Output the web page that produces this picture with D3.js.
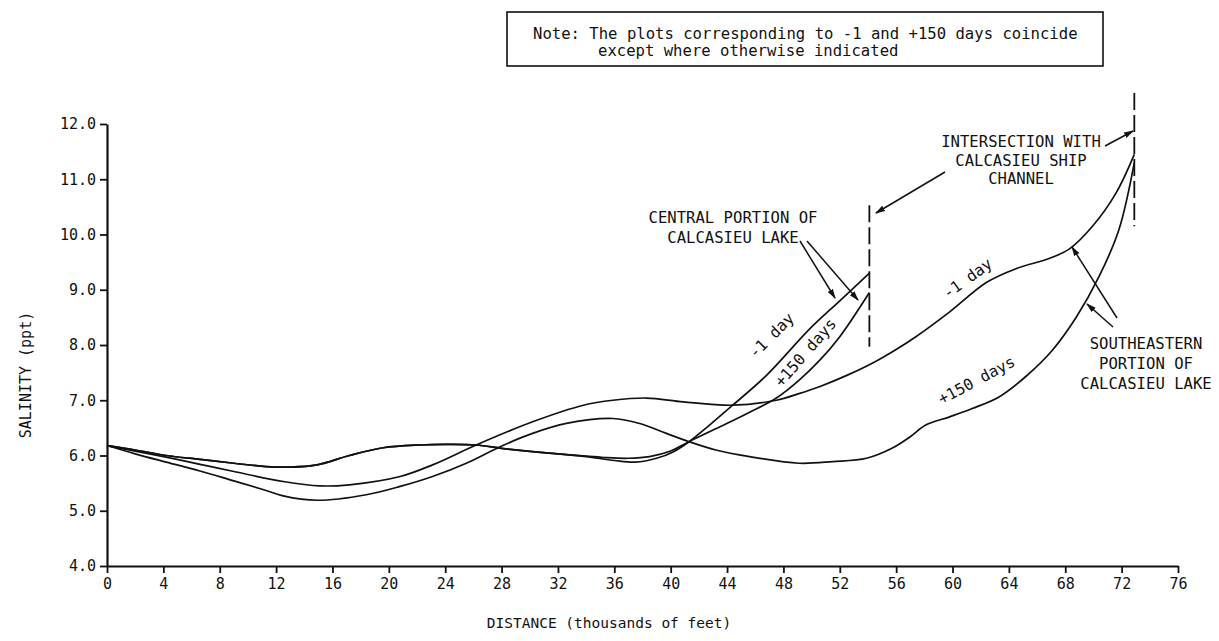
<!DOCTYPE html>
<html>
<head>
<meta charset="utf-8">
<script src="https://cdn.jsdelivr.net/npm/d3@7/dist/d3.min.js"></script>
<style>
  html, body { margin: 0; padding: 0; background: #fff; }
  svg { display: block; }
  text { font-family: "DejaVu Sans Mono", "Liberation Mono", monospace; fill: #111; }
</style>
</head>
<body>
<svg id="chart" width="1219" height="641"></svg>
<script>
// ---------------- DATA ----------------
const xTickValues = [0,4,8,12,16,20,24,28,32,36,40,44,48,52,56,60,64,68,72,76];
const yTickValues = [4,5,6,7,8,9,10,11,12];

// Central portion of Calcasieu Lake, -1 day
const centralMinus1Dist = [0, 2, 4.2, 6.6, 9, 11.3, 13, 14.9, 17.2, 19.6, 22.2, 24, 26.2, 28, 30.2, 32, 34, 36, 37.5, 39, 40.2, 41.3, 42.8, 44.4, 46.8, 49.9, 52, 54.1];
const centralMinus1Sal  = [6.18, 6.1, 6.0, 5.93, 5.86, 5.8, 5.79, 5.83, 6.0, 6.14, 6.19, 6.2, 6.19, 6.13, 6.07, 6.03, 5.98, 5.91, 5.88, 5.95, 6.07, 6.25, 6.56, 6.91, 7.45, 8.3, 8.8, 9.3];

// Central portion of Calcasieu Lake, +150 days
const centralPlus150Dist = [0, 2, 4.2, 6.6, 9, 11.3, 13, 14.9, 17.2, 19.6, 22.2, 24, 26.2, 28, 30.2, 32, 34, 35.5, 37, 38.5, 40, 41.3, 43.5, 45.5, 47.5, 49.1, 50.6, 52, 54.1];
const centralPlus150Sal  = [6.18, 6.1, 6.0, 5.93, 5.86, 5.8, 5.79, 5.83, 6.0, 6.14, 6.19, 6.2, 6.19, 6.13, 6.07, 6.03, 5.99, 5.96, 5.95, 5.98, 6.08, 6.25, 6.52, 6.77, 7.04, 7.36, 7.73, 8.15, 8.95];

// Southeastern portion of Calcasieu Lake, -1 day
const southeastMinus1Dist = [0, 2, 4.2, 6.6, 9, 12.5, 15.1, 17.2, 20.8, 23.1, 26.2, 30.2, 33.8, 35.9, 38.3, 40.9, 44.4, 47.5, 49.1, 50.6, 52.5, 54.3, 56, 57.4, 59.8, 62.4, 64.5, 66.9, 68.3, 69.9, 71.6, 72.9];
const southeastMinus1Sal  = [6.18, 6.08, 5.97, 5.84, 5.71, 5.53, 5.45, 5.47, 5.62, 5.83, 6.19, 6.61, 6.91, 7.0, 7.04, 6.97, 6.91, 7.0, 7.12, 7.25, 7.45, 7.67, 7.92, 8.15, 8.6, 9.13, 9.38, 9.57, 9.74, 10.14, 10.75, 11.45];

// Southeastern portion of Calcasieu Lake, +150 days
const southeastPlus150Dist = [0, 2, 4.2, 6.6, 9, 11, 12.5, 14.9, 18.4, 20.8, 23.1, 25.5, 27.9, 30.2, 32.6, 35.9, 37.8, 39.7, 41.3, 43.2, 45.6, 49.1, 51.5, 53.9, 55.7, 57, 58.1, 59.8, 61.4, 63.3, 65.2, 67.1, 68.8, 70.4, 71.8, 72.9];
const southeastPlus150Sal  = [6.18, 6.03, 5.88, 5.72, 5.54, 5.39, 5.27, 5.19, 5.29, 5.44, 5.62, 5.86, 6.16, 6.40, 6.58, 6.67, 6.58, 6.40, 6.25, 6.10, 5.98, 5.86, 5.89, 5.95, 6.13, 6.34, 6.55, 6.70, 6.85, 7.06, 7.43, 7.91, 8.51, 9.24, 10.08, 11.3];

// Positions of the ship channel intersections (thousands of feet)
const channelCrossings = [54.1, 72.9];

const noteLines = ["Note: The plots corresponding to -1 and +150 days coincide",
                   "except where otherwise indicated"];

// ---------------- CHART ----------------
const svg = d3.select("#chart");
const x = d3.scaleLinear().domain([0, 76]).range([107, 1178]);
const y = d3.scaleLinear().domain([4, 12]).range([566, 124]);

// arrow marker
svg.append("defs").append("marker")
  .attr("id", "arrow").attr("viewBox", "0 0 10 10")
  .attr("refX", 9).attr("refY", 5)
  .attr("markerWidth", 10).attr("markerHeight", 10)
  .attr("markerUnits", "userSpaceOnUse")
  .attr("orient", "auto")
  .append("path").attr("d", "M0,2 L10,5 L0,8 Z").attr("fill", "#111");

// axes
const xAxis = d3.axisBottom(x).tickValues(xTickValues).tickSize(7).tickSizeOuter(0).tickPadding(5)
  .tickFormat(d3.format("d"));
const gx = svg.append("g").attr("transform", `translate(0,${y(4)})`).call(xAxis);
gx.select(".domain").attr("stroke", "#111").attr("stroke-width", 2.2);
gx.selectAll(".tick line").attr("stroke", "#111").attr("stroke-width", 1.8);
gx.selectAll(".tick text").attr("font-size", 15).attr("font-family", "DejaVu Sans Mono").attr("fill", "#111");

const yAxis = d3.axisLeft(y).tickValues(yTickValues).tickSize(7).tickSizeOuter(0).tickPadding(4)
  .tickFormat(d3.format(".1f"));
const gy = svg.append("g").attr("transform", `translate(${x(0)},0)`).call(yAxis);
gy.select(".domain").attr("stroke", "#111").attr("stroke-width", 2.2);
gy.selectAll(".tick line").attr("stroke", "#111").attr("stroke-width", 1.8);
gy.selectAll(".tick text").attr("font-size", 15).attr("font-family", "DejaVu Sans Mono").attr("fill", "#111");

// axis titles
svg.append("text").attr("x", 609).attr("y", 628).attr("text-anchor", "middle")
  .attr("font-size", 14.5).text("DISTANCE (thousands of feet)");
svg.append("text").attr("transform", "translate(31,375) rotate(-90)").attr("text-anchor", "middle")
  .attr("font-size", 15).text("SALINITY (ppt)");

// curves
const line = d3.line().x(d => x(d[0])).y(d => y(d[1])).curve(d3.curveCatmullRom.alpha(0.5));
const series = [
  [centralMinus1Dist, centralMinus1Sal],
  [centralPlus150Dist, centralPlus150Sal],
  [southeastMinus1Dist, southeastMinus1Sal],
  [southeastPlus150Dist, southeastPlus150Sal]
];
svg.append("g").selectAll("path").data(series).join("path")
  .attr("d", s => line(d3.zip(s[0], s[1])))
  .attr("fill", "none").attr("stroke", "#111").attr("stroke-width", 1.7);

// dashed vertical lines at channel intersections
svg.append("line").attr("x1", x(channelCrossings[0])).attr("x2", x(channelCrossings[0]))
  .attr("y1", y(10.53)).attr("y2", y(7.97))
  .attr("stroke", "#111").attr("stroke-width", 1.8).attr("stroke-dasharray", "17,5");
svg.append("line").attr("x1", x(channelCrossings[1])).attr("x2", x(channelCrossings[1]))
  .attr("y1", y(12.56)).attr("y2", y(10.15))
  .attr("stroke", "#111").attr("stroke-width", 1.8).attr("stroke-dasharray", "17,5");

// annotation arrows
function arrow(x1, y1, x2, y2) {
  svg.append("line").attr("x1", x1).attr("y1", y1).attr("x2", x2).attr("y2", y2)
    .attr("stroke", "#111").attr("stroke-width", 1.5).attr("marker-end", "url(#arrow)");
}
arrow(800, 241, 835, 298);
arrow(807, 241, 858, 300);
arrow(945, 172, 876, 213);
arrow(1105, 146, 1133, 131);
arrow(1117, 318, 1072, 247);
arrow(1113, 327, 1087, 304);

// text annotations
function label(lines, cx, y0, dy) {
  lines.forEach((t, i) => svg.append("text").attr("x", cx).attr("y", y0 + i * dy)
    .attr("text-anchor", "middle").attr("font-size", 15.6).text(t));
}
label(["CENTRAL PORTION OF", "CALCASIEU LAKE"], 733, 223, 20);
label(["INTERSECTION WITH", "CALCASIEU SHIP", "CHANNEL"], 1021, 147, 18.5);
label(["SOUTHEASTERN", "PORTION OF", "CALCASIEU LAKE"], 1146, 349, 20);

function rotLabel(t, cx, cy, ang) {
  svg.append("text").attr("transform", `translate(${cx},${cy}) rotate(${ang})`)
    .attr("text-anchor", "middle").attr("dominant-baseline", "middle")
    .attr("font-size", 15.6).text(t);
}
rotLabel("-1 day", 772, 336, -45);
rotLabel("+150 days", 806, 353, -49);
rotLabel("-1 day", 968, 279, -36);
rotLabel("+150 days", 977, 381, -28);

// note box
svg.append("rect").attr("x", 507).attr("y", 12).attr("width", 596).attr("height", 54)
  .attr("fill", "none").attr("stroke", "#111").attr("stroke-width", 1.6);
svg.append("text").attr("x", 533).attr("y", 39).attr("font-size", 15.6).text(noteLines[0]);
svg.append("text").attr("x", 598).attr("y", 56).attr("font-size", 15.6).text(noteLines[1]);
</script>
</body>
</html>
